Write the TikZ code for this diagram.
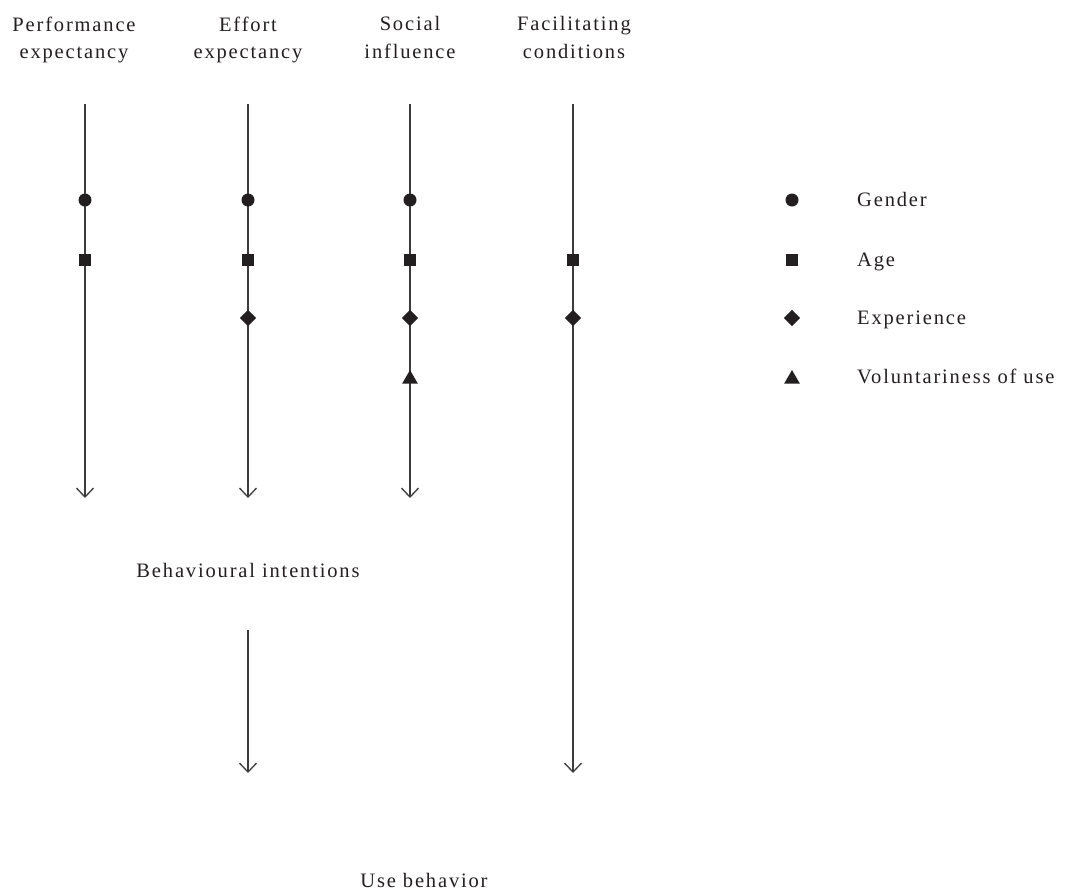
\documentclass[tikz,border=0pt]{standalone}
\usepackage{fontspec}
\setmainfont{Liberation Serif}[LetterSpace=9]
\usetikzlibrary{arrows.meta,shapes.geometric}
\definecolor{ink}{HTML}{231F20}
\definecolor{wire}{HTML}{3C3C3C}
\begin{document}
\begin{tikzpicture}[x=1pt,y=-1pt,
  lbl/.style={inner sep=0pt, text=ink, font=\fontsize{20.5}{27.5}\selectfont},
  head/.style={lbl, align=center, anchor=north},
  flow/.style={draw=wire, line width=1.4pt,
    -{Straight Barb[length=9pt,width=17pt,line width=1.3pt]}},
  dot/.style={circle, fill=ink, inner sep=0pt, minimum size=13pt},
  sq/.style={rectangle, fill=ink, inner sep=0pt, minimum size=12pt},
  dia/.style={diamond, fill=ink, inner sep=0pt, minimum width=16.5pt, minimum height=16.5pt},
  tri/.style={regular polygon, regular polygon sides=3, fill=ink, inner sep=0pt, minimum size=18pt}
]
\useasboundingbox (0,0) rectangle (1069,892);

% column headers
\node[head] (pe) at (74,16.5) {Performance\\expectancy};
\node[head] (ee) at (248,16.5) {Effort\\expectancy};
\node[head] (si) at (410,16.5) {Social\\influence};
\node[head] (fc) at (574,16.5) {Facilitating\\conditions};

% outcome labels
\node[lbl, anchor=base] (bi) at (248,577) {Behavioural intentions};
\node[lbl, anchor=base] (ub) at (424,887) {Use behavior};

% start and end points of the paths
\coordinate (pe0) at (85,104);  \coordinate (pe1) at (85,498);
\coordinate (ee0) at (248,104); \coordinate (ee1) at (248,498);
\coordinate (si0) at (410,104); \coordinate (si1) at (410,498);
\coordinate (fc0) at (573,104); \coordinate (fc1) at (573,773);
\coordinate (bi0) at (248,630); \coordinate (bi1) at (248,773);

\draw[flow] (pe0) -- (pe1);
\draw[flow] (ee0) -- (ee1);
\draw[flow] (si0) -- (si1);
\draw[flow] (fc0) -- (fc1);
\draw[flow] (bi0) -- (bi1);

% moderators on each path
\node[dot] (pe-g) at (85,200) {};
\node[sq]  (pe-a) at (85,260) {};
\node[dot] (ee-g) at (248,200) {};
\node[sq]  (ee-a) at (248,260) {};
\node[dia] (ee-x) at (248,318) {};
\node[dot] (si-g) at (410,200) {};
\node[sq]  (si-a) at (410,260) {};
\node[dia] (si-x) at (410,318) {};
\node[tri] (si-v) at (410,379) {};
\node[sq]  (fc-a) at (573,260) {};
\node[dia] (fc-x) at (573,318) {};

% legend
\node[dot] (lg-g) at (792,200) {};
\node[sq]  (lg-a) at (792,260) {};
\node[dia] (lg-x) at (792,318) {};
\node[tri] (lg-v) at (792,379) {};
\node[lbl, anchor=base west] (tg) at (857,206) {Gender};
\node[lbl, anchor=base west] (ta) at (857,266) {Age};
\node[lbl, anchor=base west] (tx) at (857,324) {Experience};
\node[lbl, anchor=base west] (tv) at (857,383) {Voluntariness of use};
\end{tikzpicture}
\end{document}
